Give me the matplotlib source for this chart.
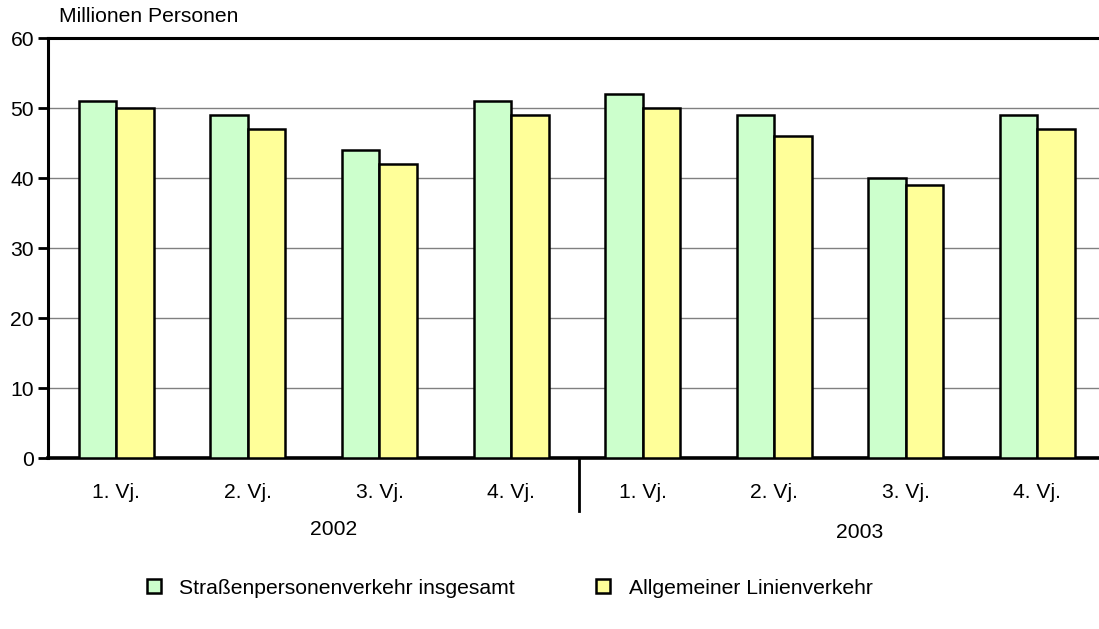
import numpy as np
import matplotlib
matplotlib.use("Agg")
import matplotlib.pyplot as plt
from matplotlib.lines import Line2D
import matplotlib.transforms as mtransforms

plt.rcParams['font.family'] = ['Liberation Sans', 'DejaVu Sans']

quarters = ["1. Vj.", "2. Vj.", "3. Vj.", "4. Vj.", "1. Vj.", "2. Vj.", "3. Vj.", "4. Vj."]
years = ["2002", "2003"]
strassen = [51, 49, 44, 51, 52, 49, 40, 49]
linien = [50, 47, 42, 49, 50, 46, 39, 47]
series_names = ["Straßenpersonenverkehr insgesamt", "Allgemeiner Linienverkehr"]

green = "#CCFFCC"
yellow = "#FFFF99"
fs = 15.2

fig = plt.figure(figsize=(10.99, 6.29), dpi=100)
ax = fig.add_axes([48 / 1099, 1 - 458 / 629, 1055 / 1099, 420 / 629])

x = np.arange(len(quarters))
w = 0.285
ax.bar(x - w / 2, strassen, w, color=green, edgecolor="black", linewidth=1.8, zorder=3)
ax.bar(x + w / 2, linien, w, color=yellow, edgecolor="black", linewidth=1.8, zorder=3)

ax.set_ylim(0, 60)
ax.set_xlim(-0.52, 7.5)
ax.set_yticks(range(0, 61, 10))
ax.yaxis.grid(True, color="#808080", linewidth=1.0, zorder=0)
ax.tick_params(axis="y", direction="out", length=7, width=2, labelsize=fs, pad=3)
ax.set_xticks(x)
ax.set_xticklabels(quarters, fontsize=fs)
ax.tick_params(axis="x", length=0, pad=18)

ax.spines["right"].set_visible(False)
ax.spines["left"].set_linewidth(2.2)
ax.spines["top"].set_linewidth(2.2)
ax.spines["bottom"].set_linewidth(2.6)

# separator between the years
trans = mtransforms.blended_transform_factory(ax.transData, ax.transAxes)
ax.plot([3.52, 3.52], [0, -0.125], transform=trans, color="black", linewidth=2, clip_on=False)

ax.text(1.65, -0.17, years[0], transform=trans, ha="center", va="center", fontsize=fs)
ax.text(5.65, -0.178, years[1], transform=trans, ha="center", va="center", fontsize=fs)

fig.text(59 / 1099, 1 - 17 / 629, "Millionen Personen", ha="left", va="center", fontsize=fs)

handles = [Line2D([], [], marker="s", linestyle="none", markersize=10, markerfacecolor=c,
                  markeredgecolor="black", markeredgewidth=1.8) for c in (green, yellow)]
fig.legend(handles, series_names, loc="center left", bbox_to_anchor=(122 / 1099, 1 - 588 / 629),
           ncol=2, frameon=False, fontsize=fs, handletextpad=0.6, columnspacing=3.6, handlelength=1.2)

fig.savefig("out.png", dpi=100)
